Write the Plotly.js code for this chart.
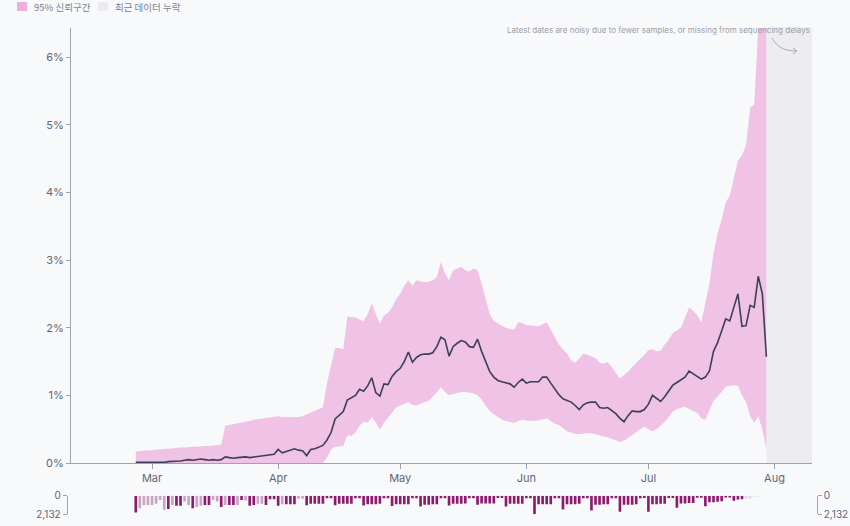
<!DOCTYPE html>
<html>
<head>
<meta charset="utf-8">
<script src="https://cdn.plot.ly/plotly-3.0.1.min.js"></script>
<style>
  html, body { margin: 0; padding: 0; background: #f8f9fb; }
  #chart { width: 850px; height: 526px; }
</style>
</head>
<body>
<div id="chart"></div>
<script>
// daily values, first day 2025-02-25
var startDay = Date.UTC(2025, 1, 25);

var meanPct = [
  0.01,0.01,0.01,0.01,0.01,0.01,0.0,0.01,0.02,0.02,
  0.03,0.03,0.04,0.05,0.04,0.05,0.06,0.05,0.04,0.05,
  0.04,0.05,0.09,0.08,0.07,0.08,0.09,0.09,0.08,0.09,
  0.1,0.11,0.12,0.12,0.13,0.2,0.15,0.17,0.19,0.21,
  0.19,0.18,0.11,0.2,0.21,0.23,0.26,0.34,0.45,0.65,
  0.7,0.76,0.93,0.97,1.0,1.09,1.06,1.14,1.26,1.04,
  0.99,1.17,1.16,1.28,1.35,1.4,1.5,1.64,1.49,1.56,
  1.6,1.61,1.61,1.63,1.72,1.86,1.82,1.58,1.72,1.77,
  1.81,1.79,1.72,1.71,1.83,1.65,1.5,1.35,1.27,1.22,
  1.2,1.18,1.17,1.12,1.19,1.24,1.18,1.2,1.2,1.2,
  1.27,1.27,1.18,1.09,1.01,0.95,0.92,0.9,0.85,0.79,
  0.86,0.89,0.9,0.9,0.82,0.81,0.82,0.78,0.73,0.66,
  0.61,0.7,0.77,0.76,0.76,0.79,0.87,1.0,0.96,0.91,
  0.98,1.06,1.15,1.19,1.23,1.27,1.36,1.32,1.28,1.24,
  1.27,1.36,1.65,1.78,1.95,2.13,2.1,2.3,2.5,2.02,
  2.03,2.33,2.3,2.76,2.5,1.57
];

var upperPct = [
  0.17,0.18,0.18,0.19,0.19,0.2,0.2,0.21,0.21,0.22,
  0.22,0.23,0.23,0.24,0.24,0.24,0.25,0.25,0.25,0.26,
  0.26,0.27,0.55,0.56,0.57,0.58,0.6,0.61,0.62,0.64,
  0.65,0.66,0.67,0.68,0.68,0.69,0.68,0.68,0.67,0.68,
  0.68,0.69,0.72,0.75,0.78,0.8,0.82,1.18,1.45,1.7,
  1.7,1.68,2.16,2.16,2.15,2.12,2.1,2.2,2.36,2.2,
  2.06,2.18,2.22,2.3,2.42,2.5,2.62,2.7,2.62,2.7,
  2.68,2.67,2.68,2.7,2.75,2.97,2.8,2.7,2.85,2.88,
  2.9,2.85,2.83,2.88,2.85,2.65,2.42,2.2,2.1,2.06,
  2.03,2.0,1.98,1.97,2.08,2.07,2.04,2.03,2.02,2.02,
  2.05,2.08,1.97,1.87,1.75,1.68,1.62,1.52,1.48,1.55,
  1.62,1.6,1.58,1.55,1.48,1.47,1.49,1.42,1.33,1.25,
  1.3,1.35,1.42,1.48,1.53,1.6,1.67,1.68,1.65,1.66,
  1.75,1.82,1.92,1.96,2.0,2.15,2.3,2.25,2.18,2.08,
  2.35,2.65,3.1,3.4,3.6,3.85,3.95,4.2,4.47,4.55,
  4.7,5.25,5.3,6.43,6.43,6.43
];

var lowerPct = [
  0,0,0,0,0,0,0,0,0,0,
  0,0,0,0,0,0,0,0,0,0,
  0,0,0,0,0,0,0,0,0,0,
  0,0,0,0,0,0,0,0,0,0,
  0,0,0,0,0,0,0,0.08,0.2,0.24,
  0.24,0.25,0.41,0.4,0.45,0.55,0.61,0.6,0.68,0.6,
  0.49,0.6,0.67,0.74,0.82,0.85,0.88,0.9,0.86,0.85,
  0.88,0.9,0.92,0.98,1.05,1.12,1.05,1.0,1.02,1.04,
  1.05,1.05,1.04,1.03,1.0,0.94,0.85,0.77,0.72,0.68,
  0.64,0.62,0.6,0.59,0.62,0.64,0.63,0.62,0.62,0.63,
  0.65,0.66,0.62,0.58,0.56,0.52,0.47,0.45,0.43,0.43,
  0.44,0.44,0.44,0.42,0.4,0.39,0.38,0.36,0.33,0.31,
  0.33,0.37,0.41,0.45,0.5,0.54,0.5,0.47,0.5,0.55,
  0.61,0.68,0.76,0.8,0.82,0.83,0.8,0.77,0.74,0.66,
  0.64,0.78,0.92,0.98,1.06,1.13,1.14,1.15,1.14,1.0,
  0.9,0.7,0.59,0.69,0.5,0.2
];

// sequences per day
var samples = [
  1950,1450,1070,1070,1070,950,490,
  1640,1560,1070,1180,1180,680,1070,
  1450,1330,1180,1070,1070,490,680,
  1330,1070,1070,1070,1070,490,570,
  1180,1070,950,950,1070,400,400,
  1180,1000,1000,1000,1000,350,350,
  1100,950,950,950,950,300,300,
  1100,950,950,950,950,300,300,
  1150,1000,1000,1000,950,300,300,
  1200,1000,1000,1000,1000,300,300,
  1250,1050,1050,1000,1000,300,300,
  1150,950,950,950,900,300,300,
  1050,900,900,900,900,280,280,
  1250,950,950,950,950,300,300,
  2132,1000,1000,1000,1000,300,300,
  1600,1000,1000,1000,950,300,300,
  1720,1050,1050,1000,1000,300,300,
  1870,1050,1050,1050,1000,300,280,
  1870,1000,1000,950,950,280,280,
  1410,900,900,850,850,250,250,
  1220,750,750,700,650,200,200,
  600,450,400,350,300,120,100,
  60,30
];

// D = full, L = partial, G = incomplete
var sampleFlag = [
  'D','L','L','L','L','L','L','L','D','L',
  'D','D','L','L','D','L','L','D','D','L',
  'L','D','L','D','D','L','D','L','D','D',
  'L','L','D','D','D','D','L','D','D','D',
  'L','L'
];

var monthTicks = ['2025-03-01','2025-04-01','2025-05-01','2025-06-01','2025-07-01','2025-08-01'];
var monthLabels = ['Mar','Apr','May','Jun','Jul','Aug'];
var pctTicks = [0,1,2,3,4,5,6];

var dates = meanPct.map(function (v, i) {
  return new Date(startDay + i * 86400000).toISOString().slice(0, 10);
});

var flagColor = {D: '#8d1b6c', L: '#c9a3c3', G: '#d9d9de'};
var barColors = samples.map(function (v, i) {
  var f = sampleFlag[i] || (i >= 150 ? 'G' : 'D');
  return flagColor[f];
});

var xRange = ['2025-02-09 02:00', '2025-08-10 05:00'];
var axisGrey = '#9ea3ad';
var tickText = '#5f6677';
var font = 'Inter, "Noto Sans CJK KR", sans-serif';

var traces = [
  {
    x: dates, y: lowerPct, type: 'scatter', mode: 'lines',
    line: {width: 0, color: '#f0c2e6'}, xaxis: 'x', yaxis: 'y',
    showlegend: false, hoverinfo: 'skip'
  },
  {
    x: dates, y: upperPct, type: 'scatter', mode: 'lines',
    fill: 'tonexty', fillcolor: '#f0c2e6',
    line: {width: 0, color: '#f0c2e6'}, xaxis: 'x', yaxis: 'y',
    showlegend: false, hoverinfo: 'skip'
  },
  {
    x: dates, y: meanPct, type: 'scatter', mode: 'lines',
    line: {width: 1.6, color: '#3c3f58'}, xaxis: 'x', yaxis: 'y',
    showlegend: false
  },
  {
    x: dates, y: samples, type: 'bar',
    marker: {color: barColors}, xaxis: 'x2', yaxis: 'y2',
    showlegend: false
  },
  // empty trace so the right-hand count axis gets drawn
  {
    x: [null], y: [null], type: 'scatter', mode: 'lines',
    xaxis: 'x2', yaxis: 'y3', showlegend: false
  }
];

var dom = [0.03924, 0.97722];

var layout = {
  width: 850,
  height: 526,
  margin: {l: 40, r: 20, t: 28, b: 12},
  paper_bgcolor: '#f8f9fb',
  plot_bgcolor: '#f8f9fb',
  font: {family: font, size: 11, color: tickText},
  showlegend: false,
  bargap: 0.35,
  xaxis: {
    type: 'date', range: xRange, domain: dom, anchor: 'y',
    showgrid: false, zeroline: false,
    showline: true, linecolor: axisGrey, linewidth: 1,
    ticks: 'outside', ticklen: 5, tickcolor: axisGrey,
    tickvals: monthTicks, ticktext: monthLabels,
    tickfont: {size: 11, color: tickText}
  },
  yaxis: {
    domain: [0.10494, 1], range: [0, 6.43], anchor: 'x',
    showgrid: false, zeroline: false,
    showline: true, linecolor: axisGrey, linewidth: 1,
    ticks: 'outside', ticklen: 4, tickcolor: axisGrey,
    tickvals: pctTicks, ticktext: pctTicks.map(function (t) { return t + '%'; }),
    tickfont: {size: 11, color: tickText}
  },
  xaxis2: {
    type: 'date', range: xRange, domain: dom, anchor: 'y2', visible: false
  },
  yaxis2: {
    domain: [0, 0.03765], range: [2132, 0], anchor: 'free', position: 0.0338,
    showgrid: false, zeroline: false,
    showline: true, linecolor: axisGrey, linewidth: 1,
    ticks: 'outside', ticklen: 4, tickcolor: axisGrey,
    tickvals: [0, 2132], ticktext: ['0', '2,132'],
    tickfont: {size: 10, color: tickText}
  },
  yaxis3: {
    domain: [0, 0.03765], range: [2132, 0], overlaying: 'y2', side: 'right',
    anchor: 'free', position: 0.9832,
    showgrid: false, zeroline: false,
    showline: true, linecolor: axisGrey, linewidth: 1,
    ticks: 'outside', ticklen: 4, tickcolor: axisGrey,
    tickvals: [0, 2132], ticktext: ['0', '2,132'],
    tickfont: {size: 10, color: tickText}
  },
  shapes: [
    // recent missing data zone
    {type: 'rect', xref: 'x', yref: 'y domain', layer: 'below',
     x0: dates[dates.length - 1], x1: xRange[1], y0: 0, y1: 1.002,
     fillcolor: '#ededef', line: {width: 0}},
    // arrow from note
    {type: 'path', xref: 'paper', yref: 'paper',
     path: 'M 0.92658 0.97942 C 0.93418 0.95885, 0.94304 0.95267, 0.95823 0.95267',
     line: {color: '#a9abb3', width: 1}},
    {type: 'path', xref: 'paper', yref: 'paper',
     path: 'M 0.95316 0.95885 L 0.95823 0.95267 L 0.95316 0.94650',
     line: {color: '#a9abb3', width: 1}},
    // legend swatches
    {type: 'rect', xref: 'paper', yref: 'paper',
     x0: -0.02911, x1: -0.01646, y0: 1.03498, y1: 1.05350,
     fillcolor: '#eeaee0', line: {width: 0}},
    {type: 'rect', xref: 'paper', yref: 'paper',
     x0: 0.07342, x1: 0.08608, y0: 1.03498, y1: 1.05350,
     fillcolor: '#ececee', line: {width: 0}}
  ],
  annotations: [
    {xref: 'paper', yref: 'paper', x: -0.01013, y: 1.04321,
     xanchor: 'left', yanchor: 'middle', showarrow: false,
     text: '95% 신뢰구간',
     font: {family: '"Noto Sans CJK KR", sans-serif', size: 9.5, color: '#7d8290'}},
    {xref: 'paper', yref: 'paper', x: 0.09241, y: 1.04321,
     xanchor: 'left', yanchor: 'middle', showarrow: false,
     text: '최근 데이터 누락',
     font: {family: '"Noto Sans CJK KR", sans-serif', size: 9.5, color: '#7d8290'}},
    {xref: 'x domain', yref: 'paper', x: 1, y: 0.9959,
     xanchor: 'right', yanchor: 'middle', showarrow: false,
     text: 'Latest dates are noisy due to fewer samples, or missing from sequencing delays',
     font: {size: 8, color: '#9b9ea8'}}
  ]
};

Plotly.newPlot('chart', traces, layout, {staticPlot: true, displayModeBar: false});
</script>
</body>
</html>
